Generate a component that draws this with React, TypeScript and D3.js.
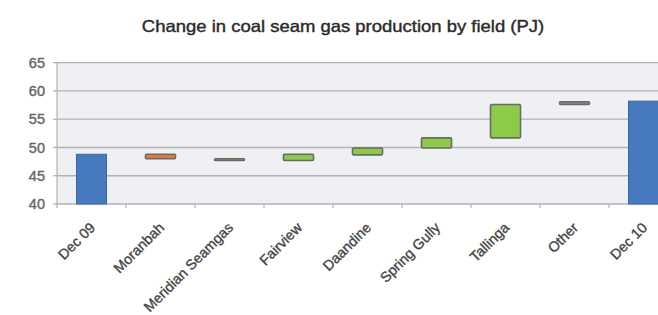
import React from "react";
import * as d3 from "d3";

const categories = ["Dec 09", "Moranbah", "Meridian Seamgas", "Fairview", "Daandine", "Spring Gully", "Tallinga", "Other", "Dec 10"];
const barStart = [40, 48.8, 48.0, 47.7, 48.7, 49.9, 51.7, 57.6, 40];
const barEnd = [48.8, 48.0, 47.7, 48.8, 49.9, 51.7, 57.6, 58.1, 58.2];
const barKind = ["total", "down", "down2", "up", "up", "up", "up", "other", "total"];
const yTicks = [40, 45, 50, 55, 60, 65];
const title = "Change in coal seam gas production by field (PJ)";

const fills: Record<string, string> = {
  total: "#4679bd",
  down: "#e2793a",
  down2: "#d9a55a",
  up: "#8ccb45",
  other: "#8a8a8a",
};

export default function App() {
  const W = 658, H = 315;
  const left = 57, band = 69;
  const x = d3.scaleBand<string>().domain(categories).range([left, left + band * categories.length]).padding(0);
  const y = d3.scaleLinear().domain([40, 65]).range([204, 62.7]);
  const bw = x.bandwidth() * 0.435;
  const font = "Liberation Sans, Arial, sans-serif";
  const plotRight = left + band * categories.length;
  return (
    <svg width={W} height={H} style={{ position: "absolute", left: 0, top: 0, background: "#fff" }}>
      <rect x={left} y={y(65)} width={plotRight - left} height={y(40) - y(65)} fill="#eff0f3" />
      {yTicks.map((t) => (
        <g key={t}>
          <line x1={left} x2={plotRight} y1={y(t)} y2={y(t)} stroke="#b2b2b2" strokeWidth={1.3} />
          <line x1={left - 4} x2={left} y1={y(t)} y2={y(t)} stroke="#b2b2b2" strokeWidth={1.2} />
          <text x={45} y={y(t)} dy="0.36em" textAnchor="end" fontFamily={font} fontSize={14.5} fill="#666" stroke="#666" strokeWidth={0.4}>{t}</text>
        </g>
      ))}
      <line x1={left} x2={left} y1={y(65)} y2={y(40) + 1} stroke="#b2b2b2" strokeWidth={1.2} />
      {categories.map((c, i) => (
        <line key={"t" + i} x1={(x(c) as number)} x2={(x(c) as number)} y1={y(40)} y2={y(40) + 4} stroke="#b2b2b2" strokeWidth={1.2} />
      ))}
      {categories.map((c, i) => {
        const y0 = y(Math.max(barStart[i], barEnd[i]));
        const y1 = y(Math.min(barStart[i], barEnd[i]));
        const bx = (x(c) as number) + (x.bandwidth() - bw) / 2;
        const kind = barKind[i];
        const stroke = kind === "total" ? "#3a68a6" : "#6a6a6a";
        return (
          <rect key={c} x={bx} y={y0} width={bw} height={Math.max(1, y1 - y0)} fill={fills[kind]} stroke={stroke} strokeWidth={kind === "total" ? 1 : 1.6} rx={kind === "total" ? 0 : 1} />
        );
      })}
      {categories.map((c) => {
        const cx = (x(c) as number) + x.bandwidth() / 2 + 1;
        return (
          <text key={"l" + c} transform={`translate(${cx},${225}) rotate(-45)`} textAnchor="end" dy="0.35em" fontFamily={font} fontSize={14.3} fill="#444" stroke="#444" strokeWidth={0.35}>{c}</text>
        );
      })}
      <text transform="translate(343,32) scale(1.12,1)" textAnchor="middle" fontFamily={font} fontSize={16.5} fill="#2a2a2a" stroke="#2a2a2a" strokeWidth={0.4}>{title}</text>
    </svg>
  );
}
